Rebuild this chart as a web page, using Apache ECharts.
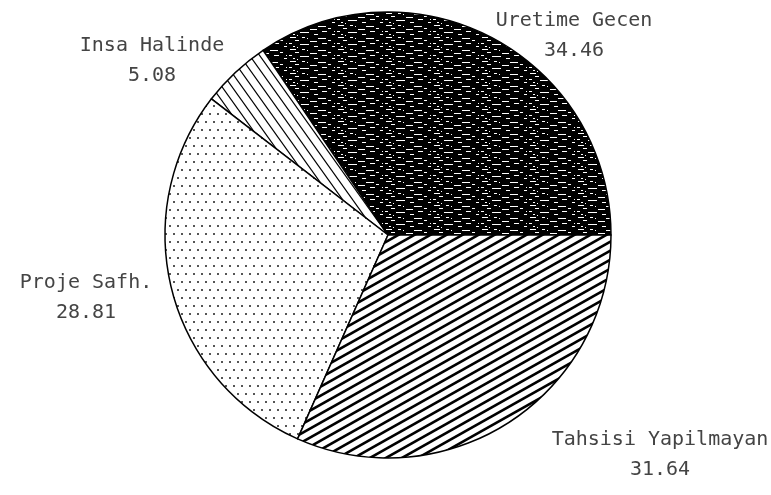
<!DOCTYPE html>
<html>
<head>
<meta charset="utf-8">
<script src="https://cdn.jsdelivr.net/npm/echarts@6/dist/echarts.min.js"></script>
<style>
  html, body { margin: 0; padding: 0; background: #fff; }
  #chart { width: 771px; height: 495px; }
</style>
</head>
<body>
<div id="chart"></div>
<script>
// slices, counter-clockwise from 3 o'clock
const names = ['Uretime Gecen', 'Insa Halinde', 'Proje Safh.', 'Tahsisi Yapilmayan']
const values = [34.46, 5.08, 28.81, 31.64]

// where each label block sits (center of the two lines)
const labelPos = [
  [574, 36],
  [152, 61],
  [86, 298],
  [660, 455]
]

// --- hatch patterns, like the old plotter fills ---
const makeTile = (w, h, draw) => {
  const c = document.createElement('canvas')
  c.width = w
  c.height = h
  const ctx = c.getContext('2d')
  draw(ctx, w, h)
  return c
}

// nearly solid black with white streaks
const darkTile = makeTile(48, 12, (ctx, w, h) => {
  ctx.fillStyle = '#000'
  ctx.fillRect(0, 0, w, h)
  ctx.fillStyle = '#fff'
  const streaks = [[2, 1, 6], [14, 1, 3], [30, 2, 8], [7, 4, 4], [22, 5, 7], [40, 4, 3],
    [1, 7, 3], [12, 8, 9], [34, 7, 5], [26, 10, 4], [5, 10, 2], [44, 10, 3]]
  streaks.forEach(s => ctx.fillRect(s[0], s[1], s[2], 1))
  ctx.fillRect(19, 2, 1, 1)
  ctx.fillRect(46, 7, 1, 1)
  ctx.fillRect(9, 11, 1, 1)
})

// draws one family of parallel lines so the tile repeats without seams
const hatch = (ctx, w, h, dir, lw) => {
  ctx.fillStyle = '#fff'
  ctx.fillRect(0, 0, w, h)
  ctx.strokeStyle = '#000'
  ctx.lineWidth = lw
  ;[-w, 0, w].forEach(o => {
    ctx.beginPath()
    if (dir > 0) {
      ctx.moveTo(o - w, 2 * h)
      ctx.lineTo(o + 2 * w, -h)
    } else {
      ctx.moveTo(o - w, -h)
      ctx.lineTo(o + 2 * w, 2 * h)
    }
    ctx.stroke()
  })
}

// sparse steep lines, upper-left to lower-right
const lineTile = makeTile(10, 14, (ctx, w, h) => hatch(ctx, w, h, -1, 1.2))

// staggered dots
const dotTile = makeTile(16, 16, (ctx, w, h) => {
  ctx.fillStyle = '#fff'
  ctx.fillRect(0, 0, w, h)
  ctx.fillStyle = '#555'
  ;[[1, 1], [9, 1], [5, 9], [13, 9]].forEach(p => ctx.fillRect(p[0], p[1], 2, 2))
})

// "/" stripes about 29 deg
const stripeTile = makeTile(16, 9, (ctx, w, h) => hatch(ctx, w, h, 1, 2.6))

const fills = [darkTile, lineTile, dotTile, stripeTile]

const chart = echarts.init(document.getElementById('chart'), null, { renderer: 'canvas' })

const option = {
  backgroundColor: '#fff',
  animation: false,
  series: [
    {
      type: 'pie',
      center: [388, 235],
      radius: 223,
      startAngle: 0,
      clockwise: false,
      avoidLabelOverlap: false,
      data: names.map((n, i) => ({
        name: n,
        value: values[i],
        itemStyle: { color: { image: fills[i], repeat: 'repeat' } }
      })),
      itemStyle: {
        borderColor: '#000',
        borderWidth: 1.5
      },
      label: {
        show: true,
        position: 'outside',
        formatter: '{b}\n{c}',
        fontFamily: 'DejaVu Sans Mono',
        fontSize: 20,
        lineHeight: 30,
        color: '#444',
        align: 'center'
      },
      labelLine: { show: false },
      labelLayout: (params) => {
        const p = labelPos[params.dataIndex]
        return {
          x: p[0],
          y: p[1],
          align: 'center',
          verticalAlign: 'middle'
        }
      },
      emphasis: { disabled: true }
    }
  ]
}

chart.setOption(option)
</script>
</body>
</html>
